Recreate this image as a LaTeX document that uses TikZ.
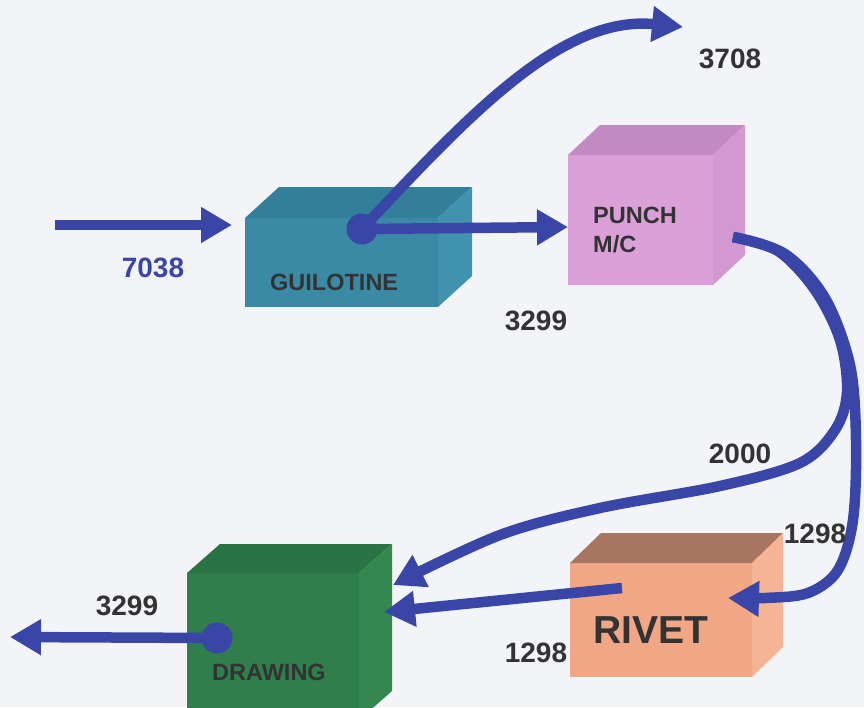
\documentclass[tikz,border=0pt]{standalone}
\usepackage{fontspec}
\setmainfont{Liberation Sans}
\usetikzlibrary{arrows.meta}
\definecolor{bg}{HTML}{F3F4F8}
\definecolor{flow}{HTML}{3A45A8}
\definecolor{txt}{HTML}{333333}
\definecolor{guilF}{HTML}{3A8AA6}
\definecolor{guilT}{HTML}{337E98}
\definecolor{guilR}{HTML}{4092AE}
\definecolor{punF}{HTML}{DAA0D7}
\definecolor{punT}{HTML}{C28AC2}
\definecolor{punR}{HTML}{D398D1}
\definecolor{draF}{HTML}{2F7E4B}
\definecolor{draT}{HTML}{2A7344}
\definecolor{draR}{HTML}{34874F}
\definecolor{rivF}{HTML}{F1A785}
\definecolor{rivT}{HTML}{A87560}
\definecolor{rivR}{HTML}{F5B494}
\tikzset{
  face/.style={rectangle, inner sep=0pt, outer sep=0pt, draw=none},
  flowline/.style={draw=flow, line width=10.5pt, -{Triangle[length=31pt,width=34pt]}},
  flowdot/.style={circle, fill=flow, inner sep=0pt, minimum size=31pt},
  boxlbl/.style={text=txt, inner sep=0pt, font=\fontsize{23.5}{27}\selectfont\bfseries},
  numlbl/.style={text=txt, inner sep=0pt, font=\fontsize{28}{32}\selectfont\bfseries},
}
\begin{document}
\begin{tikzpicture}[x=1pt,y=-1pt]
\useasboundingbox (0,0) rectangle (864,707);
\clip (0,0) rectangle (864,707);
\fill[bg] (0,0) rectangle (864,707);

% GUILOTINE box
\node[face, fill=guilF, minimum width=193pt, minimum height=89pt] (guil) at (341.5,262.5) {};
\fill[guilT] (guil.north west) -- ++(34,-31) -- ++(193,0) -- (guil.north east) -- cycle;
\fill[guilR] (guil.north east) -- ++(34,-31) -- ++(0,89) -- (guil.south east) -- cycle;
\node[boxlbl, anchor=base west] (guillbl) at (270,290) {GUILOTINE};

% PUNCH box
\node[face, fill=punF, minimum width=145pt, minimum height=130pt] (punch) at (640.5,220) {};
\fill[punT] (punch.north west) -- ++(32,-30) -- ++(145,0) -- (punch.north east) -- cycle;
\fill[punR] (punch.north east) -- ++(32,-30) -- ++(0,130) -- (punch.south east) -- cycle;
\node[boxlbl, anchor=base west] (punchlblA) at (593,223) {PUNCH};
\node[boxlbl, anchor=base west] (punchlblB) at (593,252) {M/C};

% DRAWING box
\node[face, fill=draF, minimum width=172pt, minimum height=147pt] (draw) at (273,646.5) {};
\fill[draT] (draw.north west) -- ++(33,-29) -- ++(172,0) -- (draw.north east) -- cycle;
\fill[draR] (draw.north east) -- ++(33,-29) -- ++(0,147) -- (draw.south east) -- cycle;
\node[boxlbl, anchor=base west] (drawlbl) at (212,680) {DRAWING};

% RIVET box
\node[face, fill=rivF, minimum width=182pt, minimum height=114pt] (rivet) at (661,620) {};
\fill[rivT] (rivet.north west) -- ++(31,-30) -- ++(182,0) -- (rivet.north east) -- cycle;
\fill[rivR] (rivet.north east) -- ++(31,-30) -- ++(0,114) -- (rivet.south east) -- cycle;
\node[text=txt, inner sep=0pt, font=\fontsize{39}{44}\selectfont\bfseries, anchor=base west] (rivetlbl) at (593,643) {RIVET};

% flow points
\coordinate (inS) at (55,225);
\coordinate (inE) at (232,225);
\coordinate (scrapE) at (683,27);
\coordinate (punchOut) at (733,237);
\coordinate (rivOut) at (622,588);
\coordinate (drawInA) at (393,585);
\coordinate (drawInB) at (384,612);
\coordinate (rivIn) at (728,598);
\coordinate (outE) at (10,637);

\node[flowdot] (gdot) at (362,229) {};
\node[flowdot] (ddot) at (217,638) {};

% connectors
\draw[flowline] (inS) -- (inE);
\draw[flowline] (gdot.center) -- (punch.west |- 0,227);
\draw[flowline] (gdot.center) .. controls (465,120) and (560,15) .. (scrapE);
\draw[flowline] plot[smooth, tension=0.55] coordinates {(punchOut) (785,254) (825,298) (850,365) (856,440) (853,520) (838,570) (808,593) (765,598) (rivIn)};
\draw[flowline] plot[smooth, tension=0.55] coordinates {(punchOut) (778,251) (815,290) (840,340) (847,392) (835,430) (800,463) (720,486) (600,508) (500,535) (drawInA)};
\draw[flowline] (rivOut) -- (drawInB);
\draw[flowline] (ddot.center) -- (outE);

% quantities
\node[numlbl, text=flow, anchor=base] (n7038) at (153,277) {7038};
\node[numlbl, anchor=base] (n3708) at (730,68) {3708};
\node[numlbl, anchor=base] (n3299a) at (536,330) {3299};
\node[numlbl, anchor=base] (n2000) at (740,463) {2000};
\node[numlbl, anchor=base] (n1298a) at (815,543) {1298};
\node[numlbl, anchor=base] (n1298b) at (536,662) {1298};
\node[numlbl, anchor=base] (n3299b) at (127,615) {3299};
\end{tikzpicture}
\end{document}
